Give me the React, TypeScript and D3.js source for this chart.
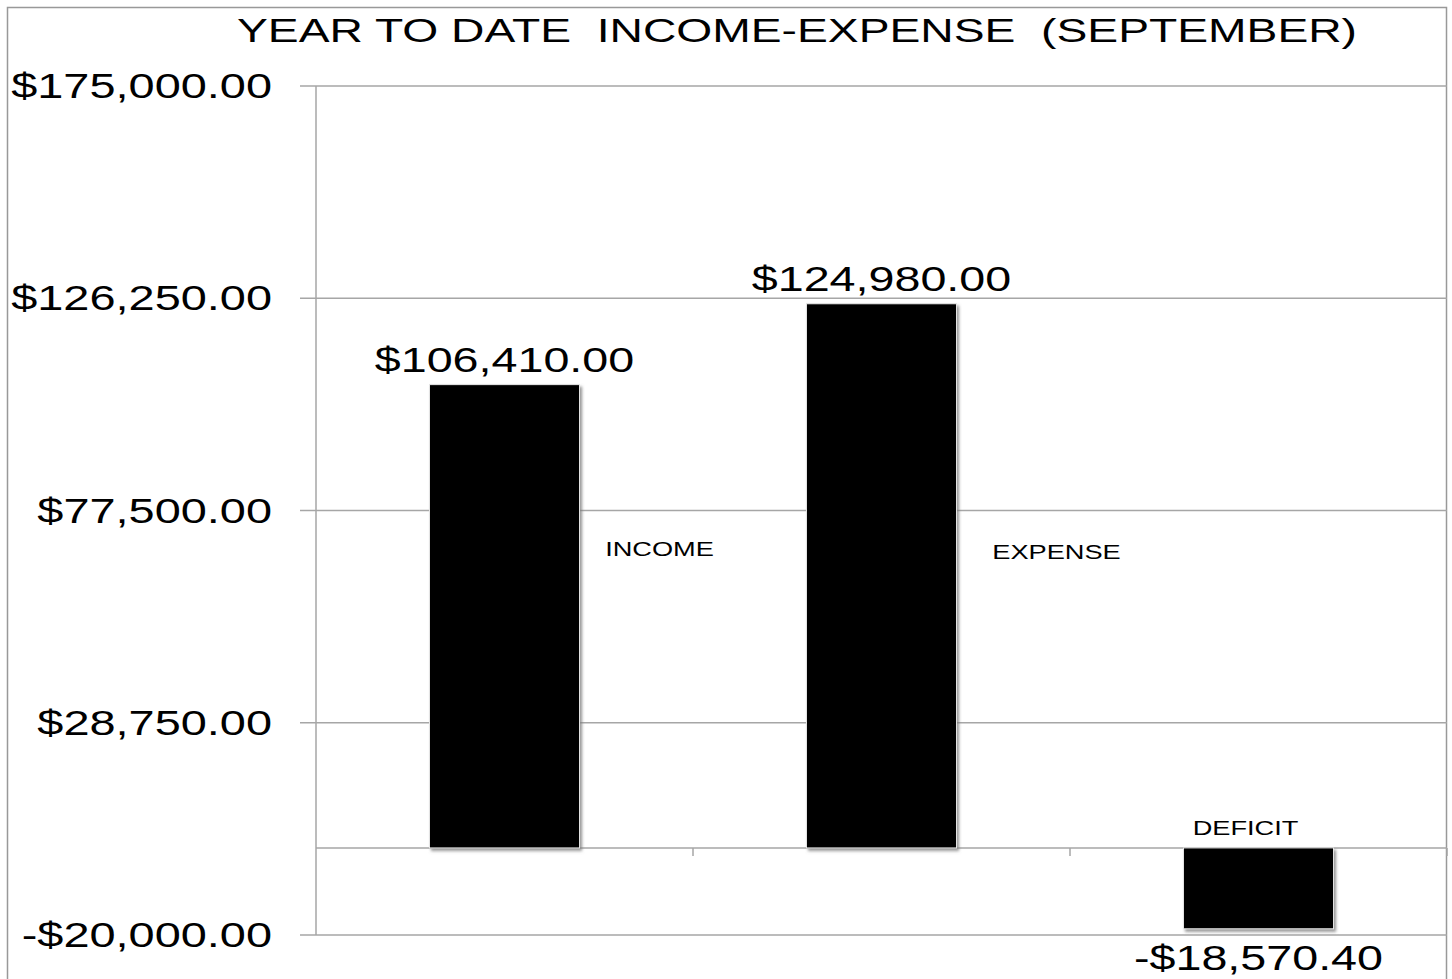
// React
import { useEffect } from 'react';

// Installed Packages
import * as d3 from 'd3';

// Chart data
const categories = ['INCOME', 'EXPENSE', 'DEFICIT'];
const amounts = [106410.0, 124980.0, -18570.4];
const yTicks = [-20000, 28750, 77500, 126250, 175000];
const chartTitle = 'YEAR TO DATE  INCOME-EXPENSE  (SEPTEMBER)';

// where the category names float (px from band centre, value units for height)
const nameDx = [155, 175, -13];
const nameAt = [68700, 68000, 4600];

const W = 1452;
const H = 979;
const margin = { top: 86, right: 5, bottom: 44, left: 316 };
const FONT = '"Liberation Sans", Arial, sans-serif';
const SX = 1.34; // the original text is drawn horizontally stretched

const money = (n: number) => (n < 0 ? '-' : '') + '$' + d3.format(',.2f')(Math.abs(n));

export default function App() {

    useEffect(() => {
        document.body.style.margin = '0';
    }, []);

    let x = d3.scaleBand<string>()
        .domain(categories)
        .range([margin.left, W - margin.right])
        .paddingInner(0.602)
        .paddingOuter(0.301);

    let y = d3.scaleLinear()
        .domain([yTicks[0], yTicks[yTicks.length - 1]])
        .range([H - margin.bottom, margin.top]);

    let x0 = margin.left;
    let x1 = W - margin.right;
    let zero = y(0);
    let step = x.step();

    return (
        <svg width={W} height={H} style={{ display: 'block', background: '#fff' }} fontFamily={FONT}>
            <defs>
                <filter id="shadow" x="-10%" y="-10%" width="130%" height="130%">
                    <feDropShadow dx="2" dy="2.5" stdDeviation="1.6" floodColor="#777" floodOpacity="0.8" />
                </filter>
            </defs>

            {/* outer frame */}
            <rect x={7.5} y={7.5} width={1439} height={H + 20} fill="none" stroke="#999" strokeWidth={1.5} />

            {/* title */}
            <text x={797} y={42} textAnchor="middle" fontSize={34} fill="#000" style={{ whiteSpace: 'pre' }}
                textLength={1120} lengthAdjust="spacingAndGlyphs">{chartTitle}</text>

            {/* gridlines + y axis */}
            {yTicks.map(t => (
                <g key={t}>
                    <line x1={x0 - 16} x2={x1} y1={y(t)} y2={y(t)} stroke="#a6a6a6" strokeWidth={1.5} />
                    <g transform={`translate(272, ${y(t) + 12}) scale(${SX}, 1)`}>
                        <text textAnchor="end" fontSize={35} fill="#000">{money(t)}</text>
                    </g>
                </g>
            ))}
            <line x1={x0} x2={x0} y1={y(yTicks[yTicks.length - 1])} y2={y(yTicks[0])} stroke="#a6a6a6" strokeWidth={1.5} />

            {/* zero line with category ticks */}
            <line x1={x0} x2={x1} y1={zero} y2={zero} stroke="#a6a6a6" strokeWidth={1.5} />
            {categories.map((c, i) => (
                <line key={c} x1={x0 + step * (i + 1)} x2={x0 + step * (i + 1)} y1={zero} y2={zero + 8} stroke="#a6a6a6" strokeWidth={1.5} />
            ))}

            {/* bars */}
            {categories.map((c, i) => {
                let v = amounts[i];
                let top = y(Math.max(0, v));
                let bottom = y(Math.min(0, v));
                return (
                    <rect key={c} x={x(c)!} y={top} width={x.bandwidth()} height={bottom - top}
                        fill="#000" stroke="#e6e6e6" strokeWidth={1} filter="url(#shadow)" />
                );
            })}

            {/* value labels */}
            {categories.map((c, i) => {
                let v = amounts[i];
                let cx = x(c)! + x.bandwidth() / 2;
                let ty = v >= 0 ? y(v) - 13 : y(v) + 41;
                return (
                    <g key={c} transform={`translate(${cx}, ${ty}) scale(${SX * 0.995}, 1)`}>
                        <text textAnchor="middle" fontSize={35} fill="#000">{money(v)}</text>
                    </g>
                );
            })}

            {/* category names */}
            {categories.map((c, i) => {
                let cx = x(c)! + x.bandwidth() / 2 + nameDx[i];
                return (
                    <g key={c} transform={`translate(${cx}, ${y(nameAt[i]) + 7}) scale(1.36, 1)`}>
                        <text textAnchor="middle" fontSize={20} fill="#000">{c}</text>
                    </g>
                );
            })}
        </svg>
    );
}
